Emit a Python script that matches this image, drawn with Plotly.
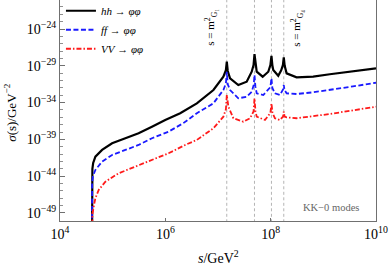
import numpy as np
import plotly.graph_objects as go

# ---- data (log10 values) ----
log_s_hh = [4.6021, 4.6025, 4.604, 4.608, 4.615, 4.630, 4.672, 4.799, 4.989, 5.241, 5.492, 5.746,
            5.998, 6.282, 6.598, 6.913, 7.102, 7.150, 7.167, 7.185, 7.229, 7.386, 7.545, 7.640,
            7.675, 7.693, 7.712, 7.735, 7.848, 7.955, 7.995, 8.015, 8.032, 8.049, 8.144, 8.200,
            8.232, 8.249, 8.266, 8.303, 8.492, 8.807, 9.123, 9.439, 9.754, 10.0]
log_sig_hh = [-62, -48, -45.5, -44.0, -43.0, -42.2, -41.35, -40.44, -39.53, -38.85, -38.17, -37.27,
              -36.36, -35.45, -34.10, -32.29, -30.48, -29.6, -28.44, -29.7, -30.70, -31.61, -31.16, -29.80,
              -28.9, -27.40, -28.9, -29.80, -30.48, -29.80, -28.9, -27.63, -28.9, -29.57, -30.35, -29.6,
              -28.9, -27.85, -29.0, -30.02, -30.56, -30.48, -30.15, -29.88, -29.57, -29.34]

log_s_ff = [4.6021, 4.6025, 4.605, 4.610, 4.625, 4.672, 4.799, 4.989, 5.241, 5.492, 5.746, 6.061,
            6.339, 6.598, 6.913, 7.102, 7.150, 7.167, 7.185, 7.229, 7.386, 7.545, 7.640, 7.678,
            7.693, 7.710, 7.735, 7.860, 7.995, 8.015, 8.032, 8.081, 8.176, 8.235, 8.249, 8.263,
            8.303, 8.492, 8.807, 9.123, 9.561, 10.0]
log_sig_ff = [-62, -49, -46.5, -45.0, -44.0, -43.16, -42.03, -41.12, -40.44, -39.76, -38.85, -37.95,
              -36.81, -35.45, -34.10, -32.29, -31.4, -29.80, -31.5, -32.29, -33.42, -33.20, -32.52, -31.6,
              -30.25, -31.8, -32.74, -32.97, -31.9, -30.70, -32.0, -32.74, -32.97, -32.2, -31.61, -32.3,
              -32.74, -32.83, -32.6, -32.29, -31.8, -31.30]

log_s_vv = [4.6021, 4.604, 4.615, 4.640, 4.672, 4.735, 4.862, 5.114, 5.430, 5.746, 6.061, 6.377,
            6.598, 6.913, 7.102, 7.150, 7.167, 7.197, 7.292, 7.481, 7.608, 7.675, 7.693, 7.712,
            7.735, 7.892, 7.995, 8.015, 8.035, 8.081, 8.176, 8.235, 8.249, 8.265, 8.303, 8.492,
            9.123, 10.0]
log_sig_vv = [-62, -51, -49.2, -48.14, -47.00, -45.88, -44.75, -43.61, -42.71, -41.80, -40.89, -39.76,
              -39.08, -37.49, -35.92, -34.9, -32.97, -34.56, -36.13, -36.60, -36.13, -35.2, -33.42, -35.2,
              -35.92, -36.36, -35.4, -34.10, -35.4, -36.13, -36.36, -35.9, -35.24, -35.9, -36.0, -36.13,
              -35.55, -34.56]

m_G = [3830, 7020, 10170, 13320]   # GeV, resonance masses (dashed lines at s = m^2)

x_tick_exp = [4, 6, 8, 10]
y_tick_exp = [-24, -29, -34, -39, -44, -49]

series = [
    ("<i>hh</i> → <i>φφ</i>", log_s_hh, log_sig_hh, "black", "solid", 2.2),
    ("<i>ff</i> → <i>φφ</i>", log_s_ff, log_sig_ff, "#1a1aff", "5px,2.5px", 1.8),
    ("<i>VV</i> → <i>φφ</i>", log_s_vv, log_sig_vv, "#ff1a1a", "5px,2px,1.5px,2px", 1.8),
]

fig = go.Figure()

# dashed reference lines at s = m_G^2
for m in m_G:
    fig.add_trace(go.Scatter(x=[m**2, m**2], y=[1e-60, 1e-15], mode="lines",
                             line=dict(color="#b4b4b4", width=1, dash="3px,2.5px"),
                             showlegend=False, hoverinfo="skip"))

for name, ls, lsig, color, dash, width in series:
    fig.add_trace(go.Scatter(x=10 ** np.array(ls), y=10 ** np.array(lsig), mode="lines", name=name,
                             line=dict(color=color, dash=dash, width=width)))

serif = "Liberation Serif"
axis_common = dict(type="log", showgrid=False, zeroline=False, showline=True, linecolor="#707070",
                   linewidth=1, mirror=True, ticks="inside", tickcolor="#707070", automargin=False,
                   tickfont=dict(family=serif, size=14, color="black"))

fig.update_xaxes(range=[4, 10], tickmode="array", tickvals=[10.0 ** e for e in x_tick_exp],
                 ticktext=[f"10<sup>{e}</sup>" for e in x_tick_exp], ticklen=3,
                 **axis_common)
fig.update_yaxes(range=[-50.1, -20.05], tickmode="array", tickvals=[10.0 ** e for e in y_tick_exp],
                 ticktext=[f"10<sup>−{-e}</sup>" for e in y_tick_exp], ticklen=5,
                 minor=dict(tickmode="array", tickvals=[10.0 ** e for e in range(-50, -20)],
                            ticklen=2.5, ticks="inside", tickcolor="#909090"),
                 **axis_common)

ann = dict(xref="paper", yref="paper", showarrow=False, xanchor="center", yanchor="middle")
fig.update_layout(
    width=390, height=265, margin=dict(l=60, r=14, t=0, b=44, autoexpand=False),
    paper_bgcolor="white", plot_bgcolor="white",
    legend=dict(x=0.003, y=1.017, xanchor="left", yanchor="top", bgcolor="rgba(0,0,0,0)",
                font=dict(family=serif, size=11, color="black")),
    annotations=[
        dict(text="<i>σ</i>(s)/GeV<sup>−2</sup>", x=-0.158, y=0.49, textangle=-90,
             font=dict(family=serif, size=13, color="black"), **ann),
        dict(text="<i>s</i>/GeV<sup>2</sup>", x=0.5, y=-0.165,
             font=dict(family=serif, size=14, color="black"), **ann),
        dict(text="s = m<sup>2</sup><sub>G₁</sub>", x=0.477, y=0.878, textangle=-90,
             font=dict(family=serif, size=11, color="black"), **ann),
        dict(text="s = m<sup>2</sup><sub>G₄</sub>", x=0.749, y=0.873, textangle=-90,
             font=dict(family=serif, size=11, color="black"), **ann),
        dict(text="KK−0 modes", x=0.859, y=0.063,
             font=dict(family=serif, size=10.5, color="#666666"), **ann),
    ],
)

fig.write_html("out.html", post_script="document.body.style.margin='0px';",
               config={"displayModeBar": False})
